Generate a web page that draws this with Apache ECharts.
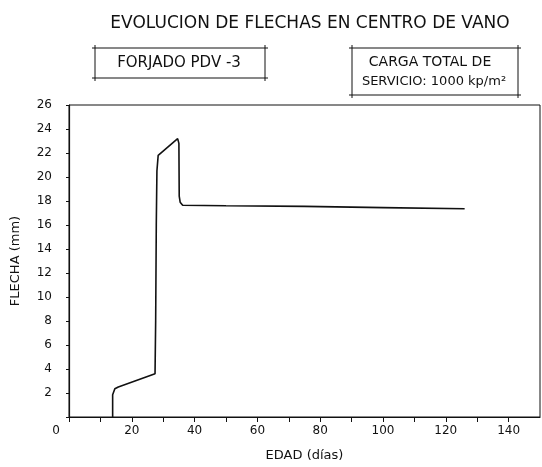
<!DOCTYPE html>
<html>
<head>
<meta charset="utf-8">
<script src="https://cdn.jsdelivr.net/npm/echarts@6/dist/echarts.min.js"></script>
<style>
html,body{margin:0;padding:0;background:#fff;}
#c{width:542px;height:467px;}
</style>
</head>
<body>
<div id="c"></div>
<script>
// Data
const edadDias = [13.9, 13.9, 14.6, 15.7, 27.4, 27.6, 27.8, 28.0, 28.4, 34.6, 35.0, 35.1, 35.4, 36.2, 50, 75, 100, 126];
const flechaMm = [0, 1.85, 2.35, 2.5, 3.6, 8, 16, 20.5, 21.8, 23.2, 22.8, 18.4, 17.9, 17.65, 17.6, 17.55, 17.45, 17.35];
const xTicks = [0, 20, 40, 60, 80, 100, 120, 140];
const yTicks = [2, 4, 6, 8, 10, 12, 14, 16, 18, 20, 22, 24, 26];
const titleText = 'EVOLUCION DE FLECHAS EN CENTRO DE VANO';
const box1Text = 'FORJADO PDV -3';
const box2Line1 = 'CARGA TOTAL DE';
const box2Line2 = 'SERVICIO: 1000 kp/m²';
const xName = 'EDAD (días)';
const yName = 'FLECHA (mm)';

const FONT = 'DejaVu Sans';
const INK = '#111';

function boxLines(x1, y1, x2, y2, ext) {
  const s = {stroke: INK, lineWidth: 1};
  return [
    {type:'line', shape:{x1:x1-ext, y1:y1, x2:x2+ext, y2:y1}, style:s, silent:true},
    {type:'line', shape:{x1:x1-ext, y1:y2, x2:x2+ext, y2:y2}, style:s, silent:true},
    {type:'line', shape:{x1:x1, y1:y1-ext, x2:x1, y2:y2+ext}, style:s, silent:true},
    {type:'line', shape:{x1:x2, y1:y1-ext, x2:x2, y2:y2+ext}, style:s, silent:true}
  ];
}

const chart = echarts.init(document.getElementById('c'), null, {renderer:'canvas'});
chart.setOption({
  backgroundColor: '#fff',
  animation: false,
  title: {
    text: titleText,
    left: 305, top: 10, textAlign: 'center',
    textStyle: {fontFamily: FONT, fontSize: 17, fontWeight: 'normal', color: INK}
  },
  grid: {
    left: 69, right: 2, top: 105, bottom: 47,
    show: true, borderColor: INK, borderWidth: 1, backgroundColor: 'transparent'
  },
  xAxis: {
    type: 'value', min: 0, max: 150, interval: 10,
    name: xName, nameLocation: 'middle', nameGap: 32,
    nameTextStyle: {fontFamily: FONT, fontSize: 13, color: INK},
    axisLine: {show: true, lineStyle: {color: INK, width: 1.2}},
    axisTick: {show: true, length: 5, inside: false, lineStyle: {color: INK}},
    splitLine: {show: false},
    axisLabel: {
      margin: 8, fontFamily: FONT, fontSize: 12, color: INK,
      showMaxLabel: false,
      formatter: function (v) {
        if (xTicks.indexOf(v) < 0) return '';
        if (v === 0) return '{z|0}';
        return String(v);
      },
      rich: {z: {fontFamily: FONT, fontSize: 12, color: INK, padding: [0, 26, 0, 0]}}
    }
  },
  yAxis: {
    type: 'value', min: 0, max: 26, interval: 2,
    name: yName, nameLocation: 'middle', nameGap: 47, nameRotate: 90,
    nameTextStyle: {fontFamily: FONT, fontSize: 13, color: INK},
    axisLine: {show: true, lineStyle: {color: INK, width: 1.2}},
    axisTick: {show: true, length: 3, lineStyle: {color: INK}},
    splitLine: {show: false},
    axisLabel: {
      margin: 17, fontFamily: FONT, fontSize: 12, color: INK,
      formatter: function (v) { return yTicks.indexOf(v) < 0 ? '' : String(v); }
    }
  },
  series: [{
    type: 'line',
    data: edadDias.map((x, i) => [x, flechaMm[i]]),
    showSymbol: false, symbol: 'none',
    lineStyle: {color: INK, width: 1.6},
    smooth: false
  }],
  graphic: [
    ...boxLines(95, 48, 265, 78, 3),
    {type:'text', x: 179, y: 63, silent: true,
     style: {text: box1Text, fontFamily: FONT, fontSize: 15, fill: INK, align: 'center', verticalAlign: 'middle'}},
    ...boxLines(352, 48, 518, 95, 3),
    {type:'text', x: 430, y: 62, silent: true,
     style: {text: box2Line1, fontFamily: FONT, fontSize: 14, fill: INK, align: 'center', verticalAlign: 'middle'}},
    {type:'text', x: 434, y: 82, silent: true,
     style: {text: box2Line2, fontFamily: FONT, fontSize: 13, fill: INK, align: 'center', verticalAlign: 'middle'}}
  ]
});
</script>
</body>
</html>
